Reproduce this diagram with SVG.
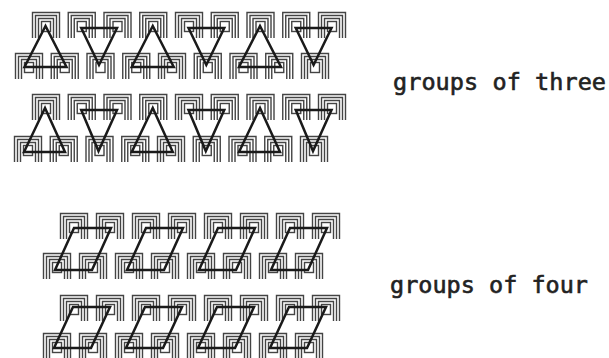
<svg xmlns="http://www.w3.org/2000/svg" xmlns:xlink="http://www.w3.org/1999/xlink" width="609" height="358" viewBox="0 0 609 358">
  <style>
    .arch { fill: none; stroke: #444444; stroke-width: 1.4; }
    .shape { fill: none; stroke: #1a1a1a; stroke-width: 2.5; stroke-linejoin: miter; }
    .lbl { font-family: "DejaVu Sans Mono", "Liberation Mono", monospace; font-weight: normal; font-size: 23.5px; fill: #222222; stroke: #222222; stroke-width: 0.6; }
  </style>
  <defs>
    <g id="u">
      <path class="arch" d="M0.5,26V0.5H27.5V26 M3.5,26V3.5H24.5V26 M6.5,26V6.5H21.5V26"/>
      <rect class="arch" x="9.5" y="9.5" width="9" height="10"/>
    </g>
  </defs>
  <rect width="609" height="358" fill="#ffffff"/>

  <g id="fig-three-a">
    <g id="fig-three-a-top">
      <use xlink:href="#u" x="32" y="12"/><use xlink:href="#u" x="67.75" y="12"/><use xlink:href="#u" x="103.5" y="12"/>
      <use xlink:href="#u" x="139.25" y="12"/><use xlink:href="#u" x="175" y="12"/><use xlink:href="#u" x="210.75" y="12"/>
      <use xlink:href="#u" x="246.5" y="12"/><use xlink:href="#u" x="282.25" y="12"/><use xlink:href="#u" x="318" y="12"/>
    </g>
    <g id="fig-three-a-bottom">
      <use xlink:href="#u" x="15" y="53"/><use xlink:href="#u" x="50.75" y="53"/><use xlink:href="#u" x="86.5" y="53"/>
      <use xlink:href="#u" x="122.25" y="53"/><use xlink:href="#u" x="158" y="53"/><use xlink:href="#u" x="193.75" y="53"/>
      <use xlink:href="#u" x="229.5" y="53"/><use xlink:href="#u" x="265.25" y="53"/><use xlink:href="#u" x="301" y="53"/>
    </g>
    <g id="fig-three-a-triangles">
      <polygon class="shape" points="45.5,26 24.5,67 66.5,67"/>
      <polygon class="shape" points="81.25,28 117,28 99,65"/>
      <polygon class="shape" points="152.75,26 131.75,67 173.75,67"/>
      <polygon class="shape" points="188.5,28 224.25,28 206.3,65"/>
      <polygon class="shape" points="260,26 239,67 281,67"/>
      <polygon class="shape" points="295.75,28 331.5,28 313.6,65"/>
    </g>
  </g>

  <g id="fig-three-b">
    <g id="fig-three-b-top">
      <use xlink:href="#u" x="32" y="94"/><use xlink:href="#u" x="67.75" y="94"/><use xlink:href="#u" x="103.5" y="94"/>
      <use xlink:href="#u" x="139.25" y="94"/><use xlink:href="#u" x="175" y="94"/><use xlink:href="#u" x="210.75" y="94"/>
      <use xlink:href="#u" x="246.5" y="94"/><use xlink:href="#u" x="282.25" y="94"/><use xlink:href="#u" x="318" y="94"/>
    </g>
    <g id="fig-three-b-bottom">
      <use xlink:href="#u" x="14" y="136"/><use xlink:href="#u" x="49.75" y="136"/><use xlink:href="#u" x="85.5" y="136"/>
      <use xlink:href="#u" x="121.25" y="136"/><use xlink:href="#u" x="157" y="136"/><use xlink:href="#u" x="192.75" y="136"/>
      <use xlink:href="#u" x="228.5" y="136"/><use xlink:href="#u" x="264.25" y="136"/><use xlink:href="#u" x="300" y="136"/>
    </g>
    <g id="fig-three-b-triangles">
      <polygon class="shape" points="45,108 24,152 65,152"/>
      <polygon class="shape" points="81.25,110 117,110 98.5,151"/>
      <polygon class="shape" points="152.75,108 131.75,152 172.75,152"/>
      <polygon class="shape" points="188.5,110 224.25,110 205.8,151"/>
      <polygon class="shape" points="260,108 239,152 280,152"/>
      <polygon class="shape" points="295.75,110 331.5,110 313,151"/>
    </g>
  </g>

  <g id="fig-four-a">
    <g id="fig-four-a-top">
      <use xlink:href="#u" x="60" y="213"/><use xlink:href="#u" x="96" y="213"/><use xlink:href="#u" x="132" y="213"/><use xlink:href="#u" x="168" y="213"/>
      <use xlink:href="#u" x="204" y="213"/><use xlink:href="#u" x="240" y="213"/><use xlink:href="#u" x="276" y="213"/><use xlink:href="#u" x="312" y="213"/>
    </g>
    <g id="fig-four-a-bottom">
      <use xlink:href="#u" x="43" y="253"/><use xlink:href="#u" x="79" y="253"/><use xlink:href="#u" x="115" y="253"/><use xlink:href="#u" x="151" y="253"/>
      <use xlink:href="#u" x="187" y="253"/><use xlink:href="#u" x="223" y="253"/><use xlink:href="#u" x="259" y="253"/><use xlink:href="#u" x="295" y="253"/>
    </g>
    <g id="fig-four-a-parallelograms">
      <polygon class="shape" points="74,228 111,228 92,270 55,270"/>
      <polygon class="shape" points="146,228 183,228 164,270 127,270"/>
      <polygon class="shape" points="218,228 255,228 236,270 199,270"/>
      <polygon class="shape" points="290,228 327,228 308,270 271,270"/>
    </g>
  </g>

  <g id="fig-four-b">
    <g id="fig-four-b-top">
      <use xlink:href="#u" x="60" y="295"/><use xlink:href="#u" x="96" y="295"/><use xlink:href="#u" x="132" y="295"/><use xlink:href="#u" x="168" y="295"/>
      <use xlink:href="#u" x="204" y="295"/><use xlink:href="#u" x="240" y="295"/><use xlink:href="#u" x="276" y="295"/><use xlink:href="#u" x="312" y="295"/>
    </g>
    <g id="fig-four-b-bottom">
      <use xlink:href="#u" x="43" y="333"/><use xlink:href="#u" x="79" y="333"/><use xlink:href="#u" x="115" y="333"/><use xlink:href="#u" x="151" y="333"/>
      <use xlink:href="#u" x="187" y="333"/><use xlink:href="#u" x="223" y="333"/><use xlink:href="#u" x="259" y="333"/><use xlink:href="#u" x="295" y="333"/>
    </g>
    <g id="fig-four-b-parallelograms">
      <polygon class="shape" points="73,307 110,307 91,348 54,348"/>
      <polygon class="shape" points="145,307 182,307 163,348 126,348"/>
      <polygon class="shape" points="217,307 254,307 235,348 198,348"/>
      <polygon class="shape" points="289,307 326,307 307,348 270,348"/>
    </g>
  </g>

  <g id="label-three"><text class="lbl" x="393" y="90" textLength="213" lengthAdjust="spacing">groups of three</text></g>
  <g id="label-four"><text class="lbl" x="390" y="293" textLength="198" lengthAdjust="spacing">groups of four</text></g>
</svg>
